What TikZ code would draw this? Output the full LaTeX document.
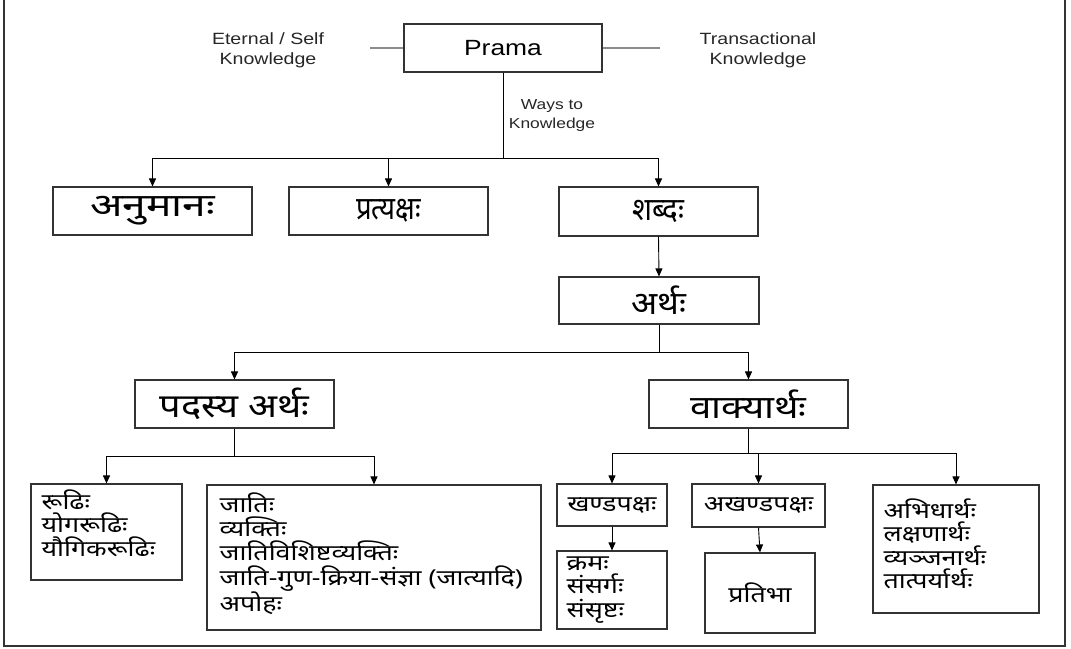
\documentclass[tikz,border=0pt]{standalone}
\usepackage{fontspec}
\setmainfont{Liberation Sans}[FakeStretch=1.2]
\newfontfamily\deva[Script=Devanagari,FakeStretch=1.22]{Noto Sans}
\newfontfamily\devaAnu[Script=Devanagari,FakeStretch=1.33]{Noto Sans}
\newfontfamily\devaPra[Script=Devanagari,FakeStretch=0.86]{Noto Sans}
\newfontfamily\devaSha[Script=Devanagari,FakeStretch=0.92]{Noto Sans}
\newfontfamily\devaArt[Script=Devanagari,FakeStretch=1.07]{Noto Sans}
\newfontfamily\devaPad[Script=Devanagari,FakeStretch=1.15]{Noto Sans}
\newfontfamily\devaVak[Script=Devanagari,FakeStretch=1.2]{Noto Sans}
\usetikzlibrary{arrows.meta,positioning,calc}
\newcommand{\tsz}{\fontsize{32}{36}\selectfont}
\tikzset{
  box/.style={draw=black!80,line width=1.1pt,rectangle,inner sep=0pt},
  conn/.style={draw=black,line width=0.9pt},
  arr/.style={conn,-{Triangle[length=8pt,width=7pt]}},
  entry/.style={font=\deva\fontsize{22}{23.5}\selectfont,align=left,anchor=north west,inner sep=0pt},
  small/.style={font=\deva\fontsize{22}{24}\selectfont},
  lab/.style={font=\fontsize{16.3}{20}\selectfont,align=center,text=black!85},
}
\begin{document}
\begin{tikzpicture}[x=1pt,y=-1pt]
\useasboundingbox (0,0) rectangle (1071,648);
\draw[line width=1.2pt,black!80] (4,0) -- (4,646) -- (1065,646) -- (1065,0);
% Prama
\node[box,minimum width=198pt,minimum height=48pt,font=\fontsize{22}{26}\selectfont] (prama) at (503,48) {Prama};
\node[lab] (eternal) at (268,50) {Eternal / Self\\Knowledge};
\node[lab] (trans) at (758,50) {Transactional\\Knowledge};
\coordinate (pl) at (370,48);
\coordinate (pr) at (660,48);
\draw[line width=1.1pt,black!45] (pl) -- (prama.west);
\draw[line width=1.1pt,black!45] (prama.east) -- (pr);
\node[lab,font=\fontsize{14.5}{19}\selectfont] (ways) at (552,116) {Ways to\\Knowledge};
% row 2
\node[box,font=\devaAnu\tsz,minimum width=199pt,minimum height=48pt] (anu) at (152.5,211) {अनुमानः};
\node[box,font=\devaPra\tsz,minimum width=199pt,minimum height=48pt] (prat) at (388.5,211) {प्रत्यक्षः};
\node[box,font=\devaSha\tsz,minimum width=199pt,minimum height=49pt] (shabda) at (658.5,211.5) {शब्दः};
\node[box,font=\devaArt\tsz,minimum width=200pt,minimum height=47pt] (artha) at (659,300.5) {अर्थः};
% row 3
\node[box,font=\devaPad\fontsize{33}{36}\selectfont,minimum width=199pt,minimum height=48pt] (pada) at (234.5,404) {पदस्य अर्थः};
\node[box,font=\devaVak\tsz,minimum width=199pt,minimum height=48pt] (vakya) at (748.5,404) {वाक्यार्थः};
% row 4
\node[box,minimum width=151pt,minimum height=96pt] (rudhi) at (106.5,532) {};
\node[entry] (rudhit) at ($(rudhi.north west)+(11,6)$) {रूढिः\\योगरूढिः\\यौगिकरूढिः};
\node[box,minimum width=334pt,minimum height=145pt] (jati) at (374,557.5) {};
\node[entry,font=\deva\fontsize{22}{24.3}\selectfont] (jatit) at ($(jati.north west)+(13,8)$) {जातिः\\व्यक्तिः\\जातिविशिष्टव्यक्तिः\\जाति-गुण-क्रिया-संज्ञा (जात्यादि)\\अपोहः};
\node[box,small,minimum width=110pt,minimum height=42pt] (khanda) at (612,505) {खण्डपक्षः};
\node[box,small,minimum width=133pt,minimum height=43pt] (akhanda) at (758.5,505.5) {अखण्डपक्षः};
\node[box,minimum width=166pt,minimum height=128pt] (abhi) at (956,549) {};
\node[entry] (abhit) at ($(abhi.north west)+(11,14)$) {अभिधार्थः\\लक्षणार्थः\\व्यञ्जनार्थः\\तात्पर्यार्थः};
\node[box,minimum width=110pt,minimum height=78pt] (krama) at (612,590) {};
\node[entry] (kramat) at ($(krama.north west)+(10,6)$) {क्रमः\\संसर्गः\\संसृष्टः};
\node[box,small,minimum width=110pt,minimum height=80pt] (pratibha) at (760,593) {प्रतिभा};
% connectors
\coordinate (b1) at (503,158);
\draw[conn] (prama.south) -- (b1);
\draw[arr] (b1) -| (anu.north);
\draw[arr] (b1) -| (prat.north);
\draw[arr] (b1) -| (shabda.north);
\draw[arr] (shabda.south) -- (artha.north);
\coordinate (b2) at (659,352);
\draw[conn] (artha.south) -- (b2);
\draw[arr] (b2) -| (pada.north);
\draw[arr] (b2) -| (vakya.north);
\coordinate (b3) at (234.5,456);
\draw[conn] (pada.south) -- (b3);
\draw[arr] (b3) -| (rudhi.north);
\draw[arr] (b3) -| (jati.north);
\coordinate (b4) at (748.5,453);
\draw[conn] (vakya.south) -- (b4);
\draw[arr] (b4) -| (khanda.north);
\draw[arr] (b4) -| (akhanda.north);
\draw[arr] (b4) -| (abhi.north);
\draw[arr] (khanda.south) -- (krama.north);
\draw[arr] (akhanda.south) -- (pratibha.north);
\end{tikzpicture}
\end{document}
